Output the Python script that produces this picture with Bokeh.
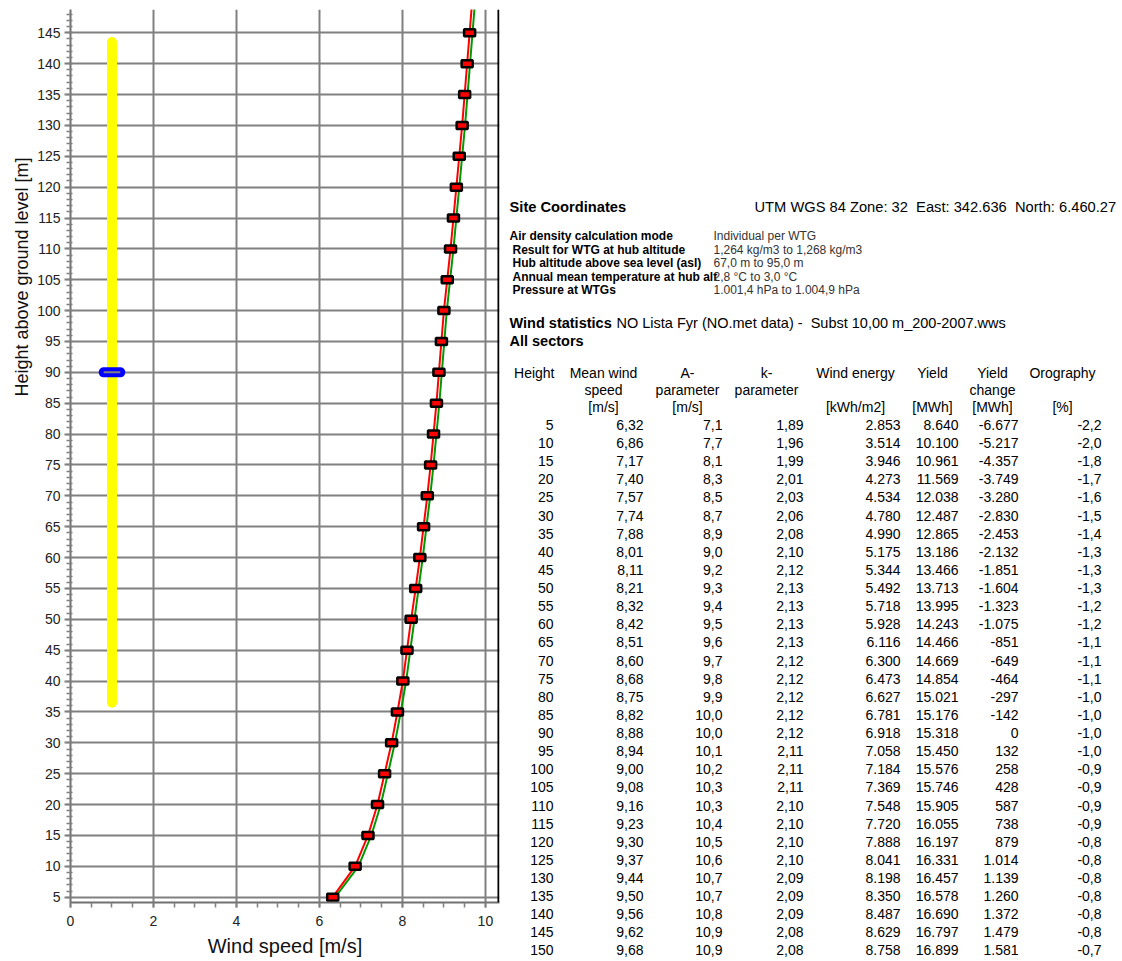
import math
from bokeh.plotting import figure
from bokeh.models import Range1d, FixedTicker, Span
from bokeh.layouts import row
from bokeh.embed import file_html
from bokeh.resources import INLINE
from bokeh.core.properties import value

# ---------------- data ----------------
heights = [5, 10, 15, 20, 25, 30, 35, 40, 45, 50, 55, 60, 65, 70, 75, 80, 85, 90, 95, 100,
           105, 110, 115, 120, 125, 130, 135, 140, 145, 150]
mean_wind = [6.32, 6.86, 7.17, 7.40, 7.57, 7.74, 7.88, 8.01, 8.11, 8.21, 8.32, 8.42, 8.51, 8.60,
             8.68, 8.75, 8.82, 8.88, 8.94, 9.00, 9.08, 9.16, 9.23, 9.30, 9.37, 9.44, 9.50, 9.56,
             9.62, 9.68]
green_profile = [6.38, 6.94, 7.25, 7.48, 7.65, 7.82, 7.96, 8.09, 8.19, 8.29, 8.39, 8.49, 8.58, 8.67,
                 8.75, 8.82, 8.89, 8.95, 9.01, 9.07, 9.15, 9.23, 9.30, 9.37, 9.44, 9.51, 9.57, 9.63,
                 9.69, 9.75]
a_param = [7.1, 7.7, 8.1, 8.3, 8.5, 8.7, 8.9, 9.0, 9.2, 9.3, 9.4, 9.5, 9.6, 9.7, 9.8, 9.9, 10.0,
           10.0, 10.1, 10.2, 10.3, 10.3, 10.4, 10.5, 10.6, 10.7, 10.7, 10.8, 10.9, 10.9]
k_param = [1.89, 1.96, 1.99, 2.01, 2.03, 2.06, 2.08, 2.10, 2.12, 2.13, 2.13, 2.13, 2.13, 2.12, 2.12,
           2.12, 2.12, 2.12, 2.11, 2.11, 2.11, 2.10, 2.10, 2.10, 2.10, 2.09, 2.09, 2.09, 2.08, 2.08]
wind_energy = [2853, 3514, 3946, 4273, 4534, 4780, 4990, 5175, 5344, 5492, 5718, 5928, 6116, 6300,
               6473, 6627, 6781, 6918, 7058, 7184, 7369, 7548, 7720, 7888, 8041, 8198, 8350, 8487,
               8629, 8758]
yield_mwh = [8640, 10100, 10961, 11569, 12038, 12487, 12865, 13186, 13466, 13713, 13995, 14243,
             14466, 14669, 14854, 15021, 15176, 15318, 15450, 15576, 15746, 15905, 16055, 16197,
             16331, 16457, 16578, 16690, 16797, 16899]
yield_change = [-6677, -5217, -4357, -3749, -3280, -2830, -2453, -2132, -1851, -1604, -1323, -1075,
                -851, -649, -464, -297, -142, 0, 132, 258, 428, 587, 738, 879, 1014, 1139, 1260,
                1372, 1479, 1581]
orography = [-2.2, -2.0, -1.8, -1.7, -1.6, -1.5, -1.4, -1.3, -1.3, -1.3, -1.2, -1.2, -1.1, -1.1,
             -1.1, -1.0, -1.0, -1.0, -1.0, -0.9, -0.9, -0.9, -0.9, -0.8, -0.8, -0.8, -0.8, -0.8,
             -0.8, -0.7]
hub_height = 90
rotor_diameter = 107
turbine_x = 1.0
x_ticks = [0, 2, 4, 6, 8, 10]
y_ticks = list(range(5, 150, 5))

y_title = "Height above ground level [m]"
x_title = "Wind speed [m/s]"
site_title = "Site Coordinates"
site_coords = "UTM WGS 84 Zone: 32 \u00a0East: 342.636 \u00a0North: 6.460.27"
air_labels = ["Air density calculation mode", "Result for WTG at hub altitude",
              "Hub altitude above sea level (asl)", "Annual mean temperature at hub alt",
              "Pressure at WTGs"]
air_values = ["Individual per WTG", "1,264 kg/m3 to 1,268 kg/m3", "67,0 m to 95,0 m",
              "2,8 °C to 3,0 °C", "1.001,4 hPa to 1.004,9 hPa"]
stats_bold = "Wind statistics"
stats_text = "NO Lista Fyr (NO.met data) - \u00a0Subst 10,00 m_200-2007.wws"
sector_text = "All sectors"

FONT = "Liberation Sans"
H = 961


def no_align(fig):
    try:
        fig.frame_align = False
    except Exception:
        pass


# ---------------- y title panel ----------------
LW = 34
yl = figure(width=LW, height=H, output_backend="svg", toolbar_location=None,
            x_range=Range1d(0, LW), y_range=Range1d(H, 0),
            x_axis_location=None, y_axis_location=None,
            min_border_left=0, min_border_right=0, min_border_top=0, min_border_bottom=0)
yl.outline_line_color = None
yl.grid.visible = False
yl.text(x=[21], y=[276.5], text=[y_title], angle=math.pi / 2, text_align="center",
        text_baseline="middle", text_font=value(FONT), text_font_size=value("18px"),
        text_color="#111111")
no_align(yl)

# ---------------- chart ----------------
X0, X1 = 0.0, 10.34
Y0, Y1 = 4.14, 148.77
CW = 503 - LW
p = figure(width=CW, height=H, output_backend="svg", toolbar_location=None,
           x_range=Range1d(X0, X1), y_range=Range1d(Y0, Y1),
           min_border_left=69 - LW, min_border_right=4, min_border_top=9,
           min_border_bottom=H - 902)
p.outline_line_color = None
no_align(p)

xt = FixedTicker(ticks=x_ticks, minor_ticks=[i * 0.5 for i in range(0, 21)])
yt = FixedTicker(ticks=y_ticks, minor_ticks=list(range(4, 149)))
p.xaxis.ticker = xt
p.xgrid.ticker = xt
p.yaxis.ticker = yt
p.ygrid.ticker = yt
p.grid.grid_line_color = "#808080"
p.grid.grid_line_width = 2
p.grid.grid_line_alpha = 1.0

for ax in (p.xaxis[0], p.yaxis[0]):
    ax.axis_line_color = "#707070"
    ax.axis_line_width = 2
    ax.major_tick_line_color = "#808080"
    ax.major_tick_line_width = 2
    ax.minor_tick_line_color = "#808080"
    ax.minor_tick_line_width = 1.5
    ax.major_label_text_font = FONT
    ax.major_label_text_font_size = "14px"
    ax.major_label_text_color = "#222222"

p.yaxis.major_tick_out = 6
p.yaxis.major_tick_in = 0
p.yaxis.minor_tick_out = 4
p.yaxis.minor_tick_in = 2
p.yaxis.major_label_standoff = 4

p.xaxis.major_tick_out = 5
p.xaxis.major_tick_in = 0
p.xaxis.minor_tick_out = 5
p.xaxis.minor_tick_in = 0
p.xaxis.major_label_standoff = 8
p.xaxis.axis_label = x_title
p.xaxis.axis_label_text_font = FONT
p.xaxis.axis_label_text_font_size = "20px"
p.xaxis.axis_label_text_font_style = "normal"
p.xaxis.axis_label_text_color = "#111111"
p.xaxis.axis_label_standoff = 6

# right border of the chart
p.add_layout(Span(location=X1 - 0.025, dimension="height", line_color="black", line_width=2))

# rotor (yellow) and hub (blue)
R = rotor_diameter / 2
p.line([turbine_x, turbine_x], [hub_height - R, hub_height + R], line_color="#ffff00",
       line_width=10, line_cap="round")
p.line([turbine_x - 0.2, turbine_x + 0.2], [hub_height, hub_height], line_color="#0000ff",
       line_width=10, line_cap="round")
p.line([turbine_x - 0.2, turbine_x + 0.2], [hub_height, hub_height], line_color="#808080",
       line_width=2)

# profiles
p.line(green_profile, heights, line_color="#009a00", line_width=2)
p.line(mean_wind, heights, line_color="#ff0000", line_width=2)
p.rect(x=mean_wind, y=heights, width=11, height=7, width_units="screen", height_units="screen",
       fill_color="#ff0000", line_color="black", line_width=2.5)

# ---------------- table panel ----------------
TX0 = 503
t = figure(width=1122 - TX0, height=H, output_backend="svg", toolbar_location=None,
           x_range=Range1d(TX0, 1122), y_range=Range1d(H, 0),
           x_axis_location=None, y_axis_location=None,
           min_border_left=0, min_border_right=0, min_border_top=0, min_border_bottom=0)
t.outline_line_color = None
t.grid.visible = False
no_align(t)


def put(xs, ys, texts, size, align="left", bold=False, color="#000000"):
    t.text(x=xs, y=ys, text=texts, text_font=value(FONT), text_font_size=value(size),
           text_align=align, text_baseline="middle",
           text_font_style="bold" if bold else "normal", text_color=color)


put([509], [206], [site_title], "14.7px", bold=True)
put([754], [206], [site_coords], "14.7px")

air_y = [235.5, 249, 262.5, 276, 289.5]
put([509] + [512] * 4, air_y, air_labels, "12px", bold=True)
put([713] * 5, air_y, air_values, "12px", color="#333333")

put([509], [322.7], [stats_bold], "14.5px", bold=True)
put([616], [322.7], [stats_text], "14.5px")
put([509], [340.7], [sector_text], "14.5px", bold=True)

# header
h1, h2, h3 = 372, 389.5, 406.5
put([554], [h1], ["Height"], "14px", align="right")
put([603] * 3, [h1, h2, h3], ["Mean wind", "speed", "[m/s]"], "14px", align="center")
put([687] * 3, [h1, h2, h3], ["A-", "parameter", "[m/s]"], "14px", align="center")
put([766] * 2, [h1, h2], ["k-", "parameter"], "14px", align="center")
put([855] * 2, [h1, h3], ["Wind energy", "[kWh/m2]"], "14px", align="center")
put([932] * 2, [h1, h3], ["Yield", "[MWh]"], "14px", align="center")
put([992] * 3, [h1, h2, h3], ["Yield", "change", "[MWh]"], "14px", align="center")
put([1062] * 2, [h1, h3], ["Orography", "[%]"], "14px", align="center")


def dec(v, n):
    return f"{v:.{n}f}".replace(".", ",")


def thou(v):
    return f"{v:,}".replace(",", ".")


row_y = [424.5 + 18.12 * i for i in range(len(heights))]
columns = [
    ([str(h) for h in heights], 553),
    ([dec(v, 2) for v in mean_wind], 643),
    ([dec(v, 1) for v in a_param], 722),
    ([dec(v, 2) for v in k_param], 803),
    ([thou(v) for v in wind_energy], 900),
    ([thou(v) for v in yield_mwh], 958),
    ([thou(v) for v in yield_change], 1018),
    ([dec(v, 1) for v in orography], 1101),
]
for texts, xr in columns:
    put([xr] * len(texts), row_y, texts, "14px", align="right")

layout = row(yl, p, t)
open("out.html", "w").write(file_html(layout, INLINE))
